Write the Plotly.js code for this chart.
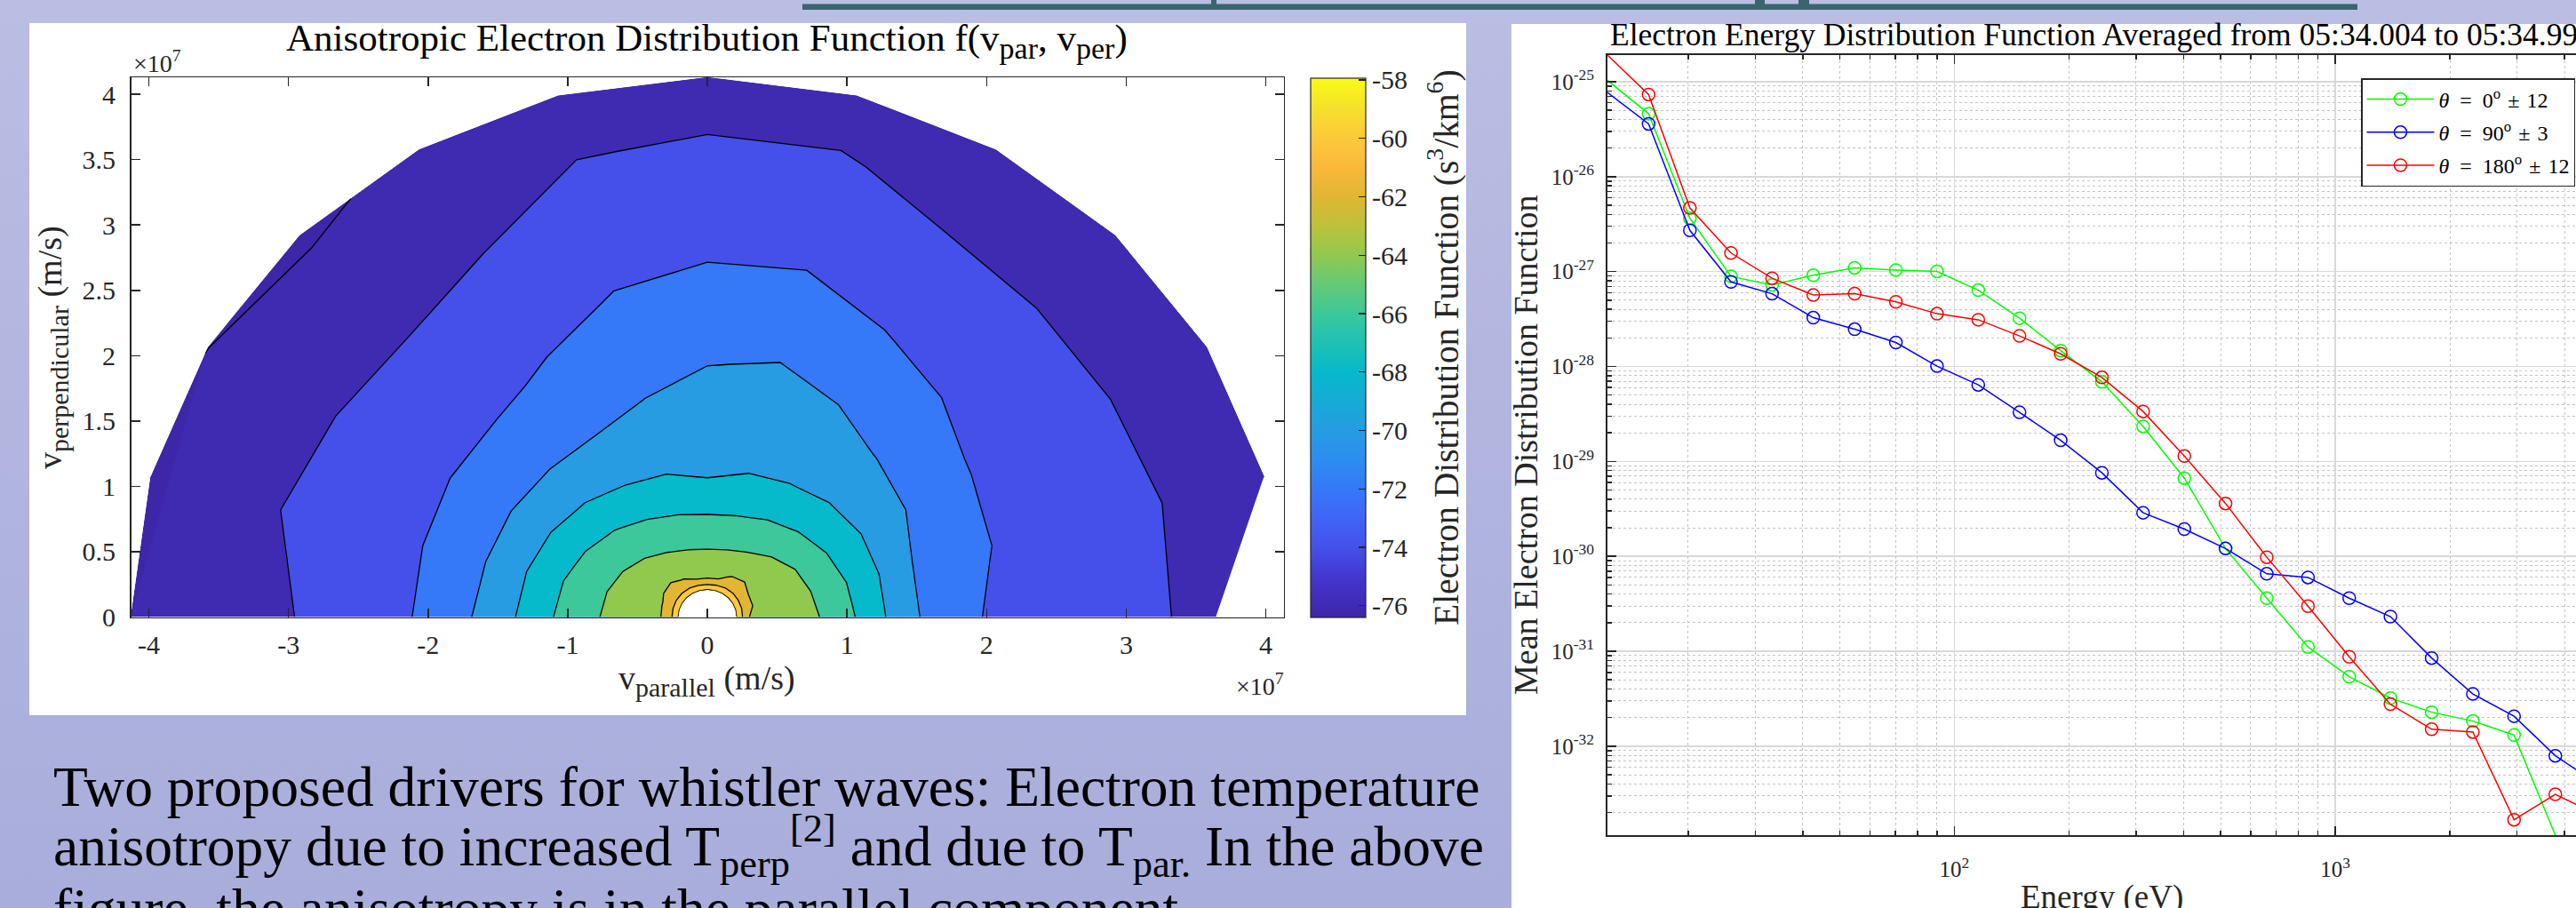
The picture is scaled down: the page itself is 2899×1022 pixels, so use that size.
<!DOCTYPE html>
<html>
<head>
<meta charset="utf-8">
<script src="https://cdn.plot.ly/plotly-3.0.1.min.js"></script>
<style>
html,body{margin:0;padding:0;width:2899px;height:1022px;overflow:hidden;}
#wrap{position:relative;width:2899px;height:1022px;overflow:hidden;background:linear-gradient(180deg,#babee3 0%,#b1b5df 50%,#a8addb 100%);}
#plot{position:absolute;left:0;top:0;width:3000px;height:1100px;}
</style>
</head>
<body>
<div id="wrap"><div id="plot"></div></div>
<script>
// ---------------- DATA ----------------
// Energy channels (eV)
const energies = [12.27, 15.74, 20.2, 25.9, 33.2, 42.6, 54.7, 70.2, 90.0, 115.5, 148.2, 190.1, 243.9,
                  312.9, 401.5, 515.1, 660.9, 848.0, 1088, 1396, 1791, 2298, 2948, 3783, 4853];
// Mean electron distribution function, pitch angle 0 deg (+-12)
const psdPar0 = [1.035e-25, 4.6e-26, 3.64e-27, 8.9e-28, 7.24e-28, 9.16e-28, 1.096e-27, 1.04e-27, 1.005e-27,
                 6.38e-28, 3.23e-28, 1.47e-28, 6.89e-29, 2.34e-29, 6.67e-30, 1.21e-30, 3.63e-31, 1.11e-31,
                 5.40e-32, 3.21e-32, 2.28e-32, 1.84e-32, 1.31e-32, 1.156e-33, null];
// pitch angle 90 deg (+-3)
const psdPerp90 = [7.71e-26, 3.6e-26, 2.72e-27, 7.8e-28, 5.85e-28, 3.27e-28, 2.47e-28, 1.79e-28, 1.01e-28,
                   6.41e-29, 3.29e-29, 1.67e-29, 7.59e-30, 2.88e-30, 1.94e-30, 1.21e-30, 6.55e-31, 6.00e-31,
                   3.63e-31, 2.32e-31, 8.49e-32, 3.55e-32, 2.07e-32, 7.93e-33, 4.07e-33];
// pitch angle 180 deg (+-12)
const psdAnti180 = [1.91e-25, 7.33e-26, 4.68e-27, 1.57e-27, 8.51e-28, 5.66e-28, 5.86e-28, 4.80e-28, 3.60e-28,
                    3.11e-28, 2.10e-28, 1.36e-28, 7.67e-29, 3.36e-29, 1.14e-29, 3.61e-30, 9.80e-31, 2.99e-31,
                    8.75e-32, 2.77e-32, 1.51e-32, 1.41e-32, 1.68e-33, 3.11e-33, 1.91e-33];
const seriesNames = ['<i>θ</i>\u2002=\u20020<sup>o</sup>\u2004±\u200412',
                     '<i>θ</i>\u2002=\u200290<sup>o</sup>\u2004±\u20043',
                     '<i>θ</i>\u2002=\u2002180<sup>o</sup>\u2004±\u200412'];
const seriesColors = ['#00ff00', '#0000ff', '#ff0000'];

// Pitch angles (deg) of the contour grid
const pitchAngles = [0, 15, 30, 45, 60, 75, 90, 105, 120, 135, 150, 165, 180];
// ln f(E, pitch angle) ; rows = pitch angle, columns = energy channel (null = no data)
const lnF = [
 [-57.95,-59.28,-60.66,-62.01,-62.16,-62.34,-62.54,-62.77,-63.03,-63.32,-63.65,-64.06,-64.93,-65.91,-67.21,-68.60,-70.02,-70.94,-71.98,-72.37,-72.80,-73.29,-73.84,-74.50,null],
 [-57.95,-59.28,-60.47,-61.47,-62.09,-62.29,-62.51,-62.77,-63.05,-63.38,-63.75,-64.30,-65.17,-66.15,-67.31,-68.60,-70.01,-70.78,-71.64,-72.25,-72.70,-73.21,-73.78,-74.40,-75.20],
 [-57.95,-59.28,-60.39,-61.21,-62.03,-62.26,-62.52,-62.82,-63.15,-63.53,-63.96,-64.70,-65.57,-66.49,-67.48,-68.47,-69.46,-70.40,-71.26,-72.11,-72.61,-73.18,-73.82,-74.50,-75.30],
 [-57.95,-59.28,-60.27,-60.86,-61.53,-62.12,-62.49,-62.90,-63.37,-63.91,-64.53,-65.24,-66.04,-66.86,-67.78,-68.51,-69.24,-70.05,-70.78,-71.60,-72.35,-73.03,-73.81,-74.50,-75.40],
 [-57.95,-59.28,-60.33,-61.03,-61.83,-62.33,-62.80,-63.33,-63.93,-64.47,-65.06,-65.73,-66.45,-67.23,-68.05,-68.49,-69.00,-69.57,-70.23,-71.03,-71.93,-72.77,-73.70,-74.40,-75.30],
 [-57.95,-59.28,-60.66,-62.01,-62.36,-62.75,-63.20,-63.71,-64.24,-64.79,-65.42,-66.11,-66.84,-67.66,-68.19,-68.53,-68.91,-69.35,-69.84,-70.53,-71.38,-72.25,-73.01,-73.89,-75.00],
 [-57.94,-59.28,-60.94,-62.14,-62.49,-62.88,-63.33,-63.83,-64.34,-64.90,-65.53,-66.24,-67.05,-67.96,-68.30,-68.67,-69.08,-69.54,-70.08,-70.76,-71.52,-72.30,-73.04,-73.89,-75.10],
 [-57.95,-59.28,-60.73,-62.06,-62.40,-62.78,-63.22,-63.72,-64.23,-64.76,-65.37,-66.05,-66.79,-67.62,-68.26,-68.77,-69.34,-69.99,-70.54,-71.15,-71.85,-72.52,-73.23,-74.05,-75.30],
 [-57.95,-59.28,-60.41,-61.29,-62.10,-62.47,-62.90,-63.39,-63.94,-64.46,-65.04,-65.70,-66.44,-67.26,-68.13,-68.88,-69.73,-70.42,-71.07,-71.81,-72.49,-73.22,-74.02,-74.60,-75.47],
 [-57.95,-59.28,-60.30,-60.94,-61.66,-62.19,-62.57,-62.99,-63.47,-64.01,-64.57,-65.19,-65.91,-66.75,-67.70,-68.66,-69.68,-70.56,-71.44,-72.25,-72.89,-73.61,-74.40,-74.90,-76.40],
 [-57.95,-59.28,-60.33,-61.03,-61.83,-62.21,-62.50,-62.84,-63.21,-63.64,-64.14,-64.75,-65.46,-66.28,-67.26,-68.35,-69.51,-70.52,-71.48,-72.27,-72.86,-73.54,-74.29,-75.00,-76.02],
 [-57.95,-59.28,-60.44,-61.38,-62.08,-62.29,-62.53,-62.81,-63.12,-63.47,-63.87,-64.42,-65.10,-65.87,-66.87,-68.04,-69.31,-70.49,-71.56,-72.30,-72.82,-73.42,-74.10,-74.70,-75.60],
 [-57.95,-59.28,-60.50,-61.59,-62.11,-62.31,-62.53,-62.79,-63.07,-63.40,-63.76,-64.24,-64.90,-65.63,-66.59,-67.81,-68.99,-70.24,-71.45,-72.35,-73.00,-73.75,-74.58,-75.10,-75.80]
];
const cbRange = [-76.4, -57.94];
const cbTicks = [-76, -74, -72, -70, -68, -66, -64, -62, -60, -58];
const vTicks = [-4, -3, -2, -1, 0, 1, 2, 3, 4];
const vPerpTicks = [0, 0.5, 1, 1.5, 2, 2.5, 3, 3.5, 4];
const eTicks = [100, 1000];
const psdTicks = [1e-32, 1e-31, 1e-30, 1e-29, 1e-28, 1e-27, 1e-26, 1e-25];

// ---------------- STYLE ----------------
const W = 3000, H = 1100;
const px = v => v / W;
const py = v => 1 - v / H;
const FONT = 'Liberation Serif, Times New Roman, serif';
const INK = '#262626';

const parula = [[0,'#3e26a8'],[0.0217,'#3f2ab2'],[0.08,'#4438d2'],[0.13,'#4550ea'],[0.185,'#4065f6'],
  [0.238,'#3578f8'],[0.29,'#2d8cf0'],[0.347,'#259ce3'],[0.40,'#17aad6'],[0.455,'#06b9cb'],[0.51,'#1fc1b3'],
  [0.563,'#3cc89a'],[0.62,'#66ca76'],[0.672,'#90c94e'],[0.725,'#bcc23c'],[0.78,'#e0b634'],[0.835,'#fbb83a'],
  [0.888,'#fcc93b'],[0.945,'#f5e12b'],[1,'#f9fb15']];
// discrete band colours (MATLAB contourf: band coloured by its lower level)
const bandColors = ['#3e26a8','#3f2ab2','#4550ea','#3578f8','#279ce3','#06b9cb','#3cc89a','#90c94e','#e3b534','#fbc93b','#f8f82a'];
const bandScale = bandColors.map((c, i) => [i / (bandColors.length - 1), c]);

// speed (units of 1e7 m/s) from energy, polar grid -> cartesian
const speed = energies.map(E => Math.sqrt(2 * E * 1.602177e-19 / 9.109384e-31) / 1e7);
const rad = t => t * Math.PI / 180;
const gridX = pitchAngles.map(t => speed.map(v => v * Math.cos(rad(t))));
const gridY = pitchAngles.map(t => speed.map(v => Math.max(0, v * Math.sin(rad(t)))));

// cell with a missing value (no data) is left blank: mask built from the grid nodes around it
const maskX = [], maskY = [];
lnF.forEach((row, j) => row.forEach((z, i) => {
  if (z !== null) return;
  const jn = j + 1 < pitchAngles.length ? j + 1 : j - 1;
  maskX.push(gridX[j][i - 1], gridX[j][i], gridX[jn][i], gridX[j][i - 1], null);
  maskY.push(gridY[j][i - 1], gridY[j][i], gridY[jn][i], gridY[j][i - 1], null);
}));

const hiddenCarpetAxis = {smoothing: 0, showgrid: false, showline: false, showticklabels: 'none',
  startline: false, endline: false, minorgridcount: 0, title: {text: ''}};

const data = [
  {type: 'carpet', carpet: 'vdf', a: energies, b: pitchAngles, x: gridX, y: gridY,
   xaxis: 'x', yaxis: 'y', aaxis: hiddenCarpetAxis, baxis: hiddenCarpetAxis, showlegend: false},
  {type: 'contourcarpet', carpet: 'vdf', a: energies, b: pitchAngles, z: lnF,
   autocontour: false, contours: {start: -76, end: -58, size: 2, coloring: 'fill', showlines: true},
   line: {color: '#000000', width: 1.3, smoothing: 0}, colorscale: bandScale, showscale: false,
   xaxis: 'x', yaxis: 'y', showlegend: false, hoverinfo: 'skip'},
  {type: 'scatter', mode: 'lines', x: maskX, y: maskY, fill: 'toself', fillcolor: '#ffffff',
   line: {width: 2, color: '#ffffff'}, xaxis: 'x', yaxis: 'y', showlegend: false, hoverinfo: 'skip'},
  {type: 'scatter', mode: 'markers', x: [null, null], y: [null, null], xaxis: 'x', yaxis: 'y',
   showlegend: false, hoverinfo: 'skip',
   marker: {color: cbRange, cmin: cbRange[0], cmax: cbRange[1], colorscale: parula, showscale: true, opacity: 0,
     colorbar: {x: px(1475), xanchor: 'left', y: py(88), yanchor: 'top', len: (694.5 - 88) / H, lenmode: 'fraction',
       thickness: 61.5, thicknessmode: 'pixels', xpad: 0, ypad: 0, outlinewidth: 1.2, outlinecolor: INK,
       borderwidth: 0, bgcolor: 'rgba(0,0,0,0)',
       tickvals: cbTicks, ticktext: cbTicks.map(v => String(v)), ticks: 'inside', ticklen: 8, tickwidth: 1.2,
       tickcolor: INK, tickfont: {family: FONT, size: 30, color: INK}}}}
];

[psdPar0, psdPerp90, psdAnti180].forEach((ys, i) => {
  data.push({type: 'scatter', mode: 'lines+markers', x: energies, y: ys, name: seriesNames[i],
    xaxis: 'x2', yaxis: 'y2', cliponaxis: false, legendgroup: 'g' + i,
    line: {color: seriesColors[i], width: 1.5},
    marker: {symbol: 'circle-open', size: 14, color: seriesColors[i], line: {width: 1.5, color: seriesColors[i]}}});
});

// minor grid positions for log axes
const minorVals = (lo, hi) => { const out = []; for (let d = lo; d <= hi; d++) for (let k = 2; k <= 9; k++) out.push(k * Math.pow(10, d)); return out; };

const tickFontL = {family: FONT, size: 30, color: INK};
const tickFontR = {family: FONT, size: 25, color: INK};

const annotations = [];
const ann = (text, x, y, o) => annotations.push(Object.assign({text: text, x: px(x), y: py(y), xref: 'paper', yref: 'paper',
  showarrow: false, xanchor: 'center', yanchor: 'middle', font: {family: FONT, size: 30, color: '#000'}}, o));
const sub = (t, s) => '<sub><span style="font-size:' + s + 'px">' + t + '</span></sub>';

ann('Anisotropic Electron Distribution Function f(v' + sub('par', 34) + ', v' + sub('per', 34) + ')', 796, 46, {font: {family: FONT, size: 43, color: '#000'}});
ann('×10<sup>7</sup>', 148, 89, {xanchor: 'left', yanchor: 'bottom', font: {family: FONT, size: 28, color: INK}});
ann('×10<sup>7</sup>', 1447, 790, {xanchor: 'right', yanchor: 'bottom', font: {family: FONT, size: 28, color: INK}});
ann('v' + sub('parallel', 30) + ' (m/s)', 796, 766, {font: {family: FONT, size: 38, color: INK}});
ann('v' + sub('perpendicular', 30) + ' (m/s)', 59, 391, {textangle: -90, font: {family: FONT, size: 38, color: INK}});
ann('Electron Distribution Function (s<sup>3</sup>/km<sup>6</sup>)', 1624, 391, {textangle: -90, font: {family: FONT, size: 39.5, color: INK}});
ann('Electron Energy Distribution Function Averaged from 05:34.004 to 05:34.996', 2365.5, 39, {font: {family: FONT, size: 35.5, color: '#000'}});
ann('Mean Electron Distribution Function', 1717, 501, {textangle: -90, font: {family: FONT, size: 38, color: INK}});
ann('Energy (eV)', 2365.5, 1010, {font: {family: FONT, size: 37, color: INK}});
const para = {xanchor: 'left', font: {family: FONT, size: 63.5, color: '#000'}};
ann('Two proposed drivers for whistler waves: Electron temperature', 58, 885, para);
ann('anisotropy due to increased T<sub>perp</sub><sup>[2]</sup> and due to T<sub>par.</sub> In the above', 58, 952, para);
ann('figure, the anisotropy is in the parallel component.', 58, 1022, para);

const layout = {
  width: W, height: H, margin: {l: 0, r: 0, t: 0, b: 0, pad: 0},
  paper_bgcolor: 'rgba(0,0,0,0)', plot_bgcolor: '#ffffff',
  font: {family: FONT, color: INK},
  showlegend: true,
  xaxis: {domain: [px(147.5), px(1444.7)], anchor: 'y', range: [-4.128, 4.128], tickvals: vTicks, ticktext: vTicks.map(String),
    ticks: 'inside', ticklen: 10, tickwidth: 1.5, tickcolor: INK, showline: true, linecolor: INK, linewidth: 1.5,
    mirror: 'ticks', showgrid: false, zeroline: false, tickfont: tickFontL, ticklabelstandoff: 4},
  yaxis: {domain: [py(694.5), py(87.3)], anchor: 'x', range: [0, 4.128], tickvals: vPerpTicks, ticktext: vPerpTicks.map(String),
    ticks: 'inside', ticklen: 10, tickwidth: 1.5, tickcolor: INK, showline: true, linecolor: INK, linewidth: 1.5,
    mirror: 'ticks', showgrid: false, zeroline: false, tickfont: tickFontL, ticklabelstandoff: 10},
  xaxis2: {domain: [px(1809), px(2922)], anchor: 'y2', type: 'log', range: [1.0889, 3.6858],
    tickvals: eTicks, ticktext: ['10<sup>2</sup>', '10<sup>3</sup>'],
    ticks: 'inside', ticklen: 10, tickwidth: 1.5, tickcolor: INK, showline: true, linecolor: INK, linewidth: 2,
    mirror: 'ticks', showgrid: true, gridcolor: '#d9d9d9', gridwidth: 1.5, zeroline: false, tickfont: tickFontR, ticklabelstandoff: 15,
    minor: {tickmode: 'array', tickvals: minorVals(1, 3), ticks: 'inside', ticklen: 5, tickcolor: INK, showgrid: true,
      gridcolor: '#c4c4c4', griddash: 'dot', gridwidth: 1}},
  yaxis2: {domain: [py(940), py(62)], anchor: 'x2', type: 'log', range: [-32.937, -24.719],
    tickvals: psdTicks, ticktext: psdTicks.map(v => '10<sup>' + Math.round(Math.log10(v)) + '</sup>'),
    ticks: 'inside', ticklen: 10, tickwidth: 1.5, tickcolor: INK, showline: true, linecolor: INK, linewidth: 2,
    mirror: 'ticks', showgrid: true, gridcolor: '#d9d9d9', gridwidth: 1.5, zeroline: false, tickfont: tickFontR, ticklabelstandoff: 8,
    minor: {tickmode: 'array', tickvals: minorVals(-33, -25), ticks: 'inside', ticklen: 5, tickcolor: INK, showgrid: true,
      gridcolor: '#c4c4c4', griddash: 'dot', gridwidth: 1}},
  legend: {x: px(2657), y: py(88), xanchor: 'left', yanchor: 'top', bgcolor: '#ffffff', bordercolor: INK, borderwidth: 1.5,
    font: {family: FONT, size: 24, color: '#000'}, traceorder: 'grouped', tracegroupgap: 3, itemwidth: 76},
  shapes: [
    {type: 'rect', xref: 'paper', yref: 'paper', x0: px(33), x1: px(1650), y0: py(805), y1: py(26), fillcolor: '#ffffff', line: {width: 0}, layer: 'below'},
    {type: 'rect', xref: 'paper', yref: 'paper', x0: px(1701), x1: 1, y0: 0, y1: py(27), fillcolor: '#ffffff', line: {width: 0}, layer: 'below'},
    {type: 'rect', xref: 'paper', yref: 'paper', x0: px(903), x1: px(2653), y0: py(11), y1: py(4.5), fillcolor: '#3b6470', line: {width: 0}, layer: 'below'},
    {type: 'rect', xref: 'paper', yref: 'paper', x0: px(1363), x1: px(1369), y0: py(5), y1: 1, fillcolor: '#3b6470', line: {width: 0}, layer: 'below'},
    {type: 'rect', xref: 'paper', yref: 'paper', x0: px(1975), x1: px(1986), y0: py(5), y1: 1, fillcolor: '#3b6470', line: {width: 0}, layer: 'below'},
    {type: 'rect', xref: 'paper', yref: 'paper', x0: px(2024), x1: px(2036), y0: py(5), y1: 1, fillcolor: '#3b6470', line: {width: 0}, layer: 'below'}
  ],
  annotations: annotations
};

Plotly.newPlot('plot', data, layout, {staticPlot: true, displayModeBar: false});
</script>
</body>
</html>
